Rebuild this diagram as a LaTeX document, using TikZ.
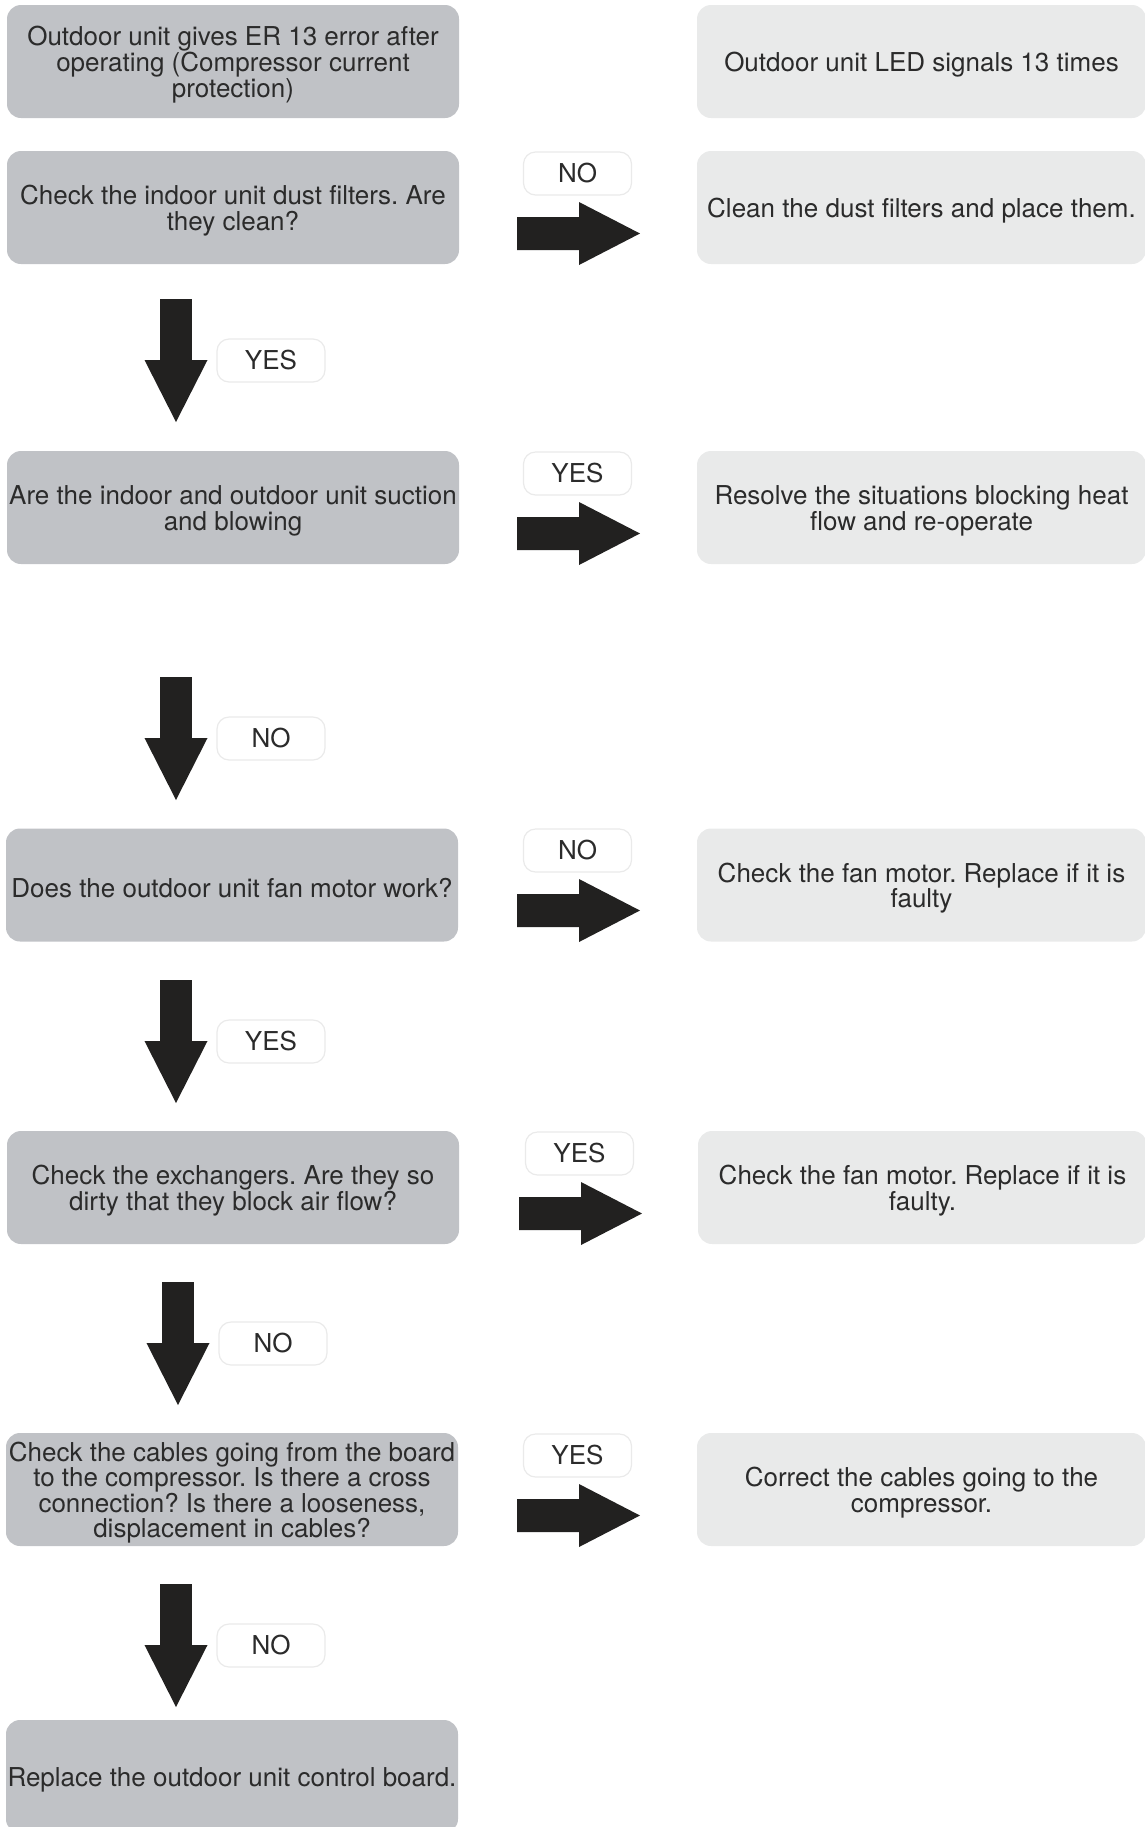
\documentclass[tikz,border=0pt]{standalone}
\usepackage{fontspec}
\setmainfont{TeX Gyre Heros}
\frenchspacing
\definecolor{qfill}{HTML}{C0C2C6}
\definecolor{afill}{HTML}{E9EAEA}
\definecolor{arrowcol}{HTML}{222120}
\definecolor{textcol}{HTML}{2B2B2B}
\definecolor{tagline}{HTML}{EAEAEA}
% a filled box and its centred text, set a little below the middle
\newcommand\flowbox[4]{%
  \node[#1] (#2) at (#3) {};
  \node[txt] (#2-text) at ([yshift=-1.6pt]#2.center) {#4};}
\begin{document}
\begin{tikzpicture}[x=0.5pt,y=-0.5pt,
  txt/.style={font=\fontsize{13}{12.8}\selectfont, text=textcol, align=center, inner sep=0pt},
  qbox/.style={fill=qfill, rounded corners=7pt, minimum width=226pt, minimum height=56.5pt, inner sep=0pt},
  abox/.style={fill=afill, rounded corners=7pt, minimum width=224.5pt, minimum height=56.5pt, inner sep=0pt},
  tag/.style={txt, fill=white, draw=tagline, line width=0.6pt, rounded corners=6pt, minimum width=54pt, minimum height=21.5pt, inner sep=0pt},
  downarrow/.pic={\fill[arrowcol] (-15.8,0) -- (15.8,0) -- (15.8,61) -- (31.5,61) -- (0,123) -- (-31.5,61) -- (-15.8,61) -- cycle;},
  rightarrow/.pic={\fill[arrowcol] (0,-16.5) -- (62,-16.5) -- (62,-31.5) -- (123,0) -- (62,31.5) -- (62,16.5) -- (0,16.5) -- cycle;}
]
\useasboundingbox (0,0) rectangle (1145,1827);

% question boxes (left column)
\flowbox{qbox}{q1}{233,61.5}{Outdoor unit gives ER 13 error after\\operating (Compressor current\\protection)}
\flowbox{qbox}{q2}{233,207.5}{Check the indoor unit dust filters. Are\\they clean?}
\flowbox{qbox}{q3}{233,507.5}{Are the indoor and outdoor unit suction\\and blowing}
\flowbox{qbox}{q4}{232,885}{Does the outdoor unit fan motor work?}
\flowbox{qbox}{q5}{233,1187.5}{Check the exchangers. Are they so\\dirty that they block air flow?}
\flowbox{qbox}{q6}{232,1489.5}{Check the cables going from the board\\to the compressor. Is there a cross\\connection? Is there a looseness,\\displacement in cables?}
\flowbox{qbox}{q7}{232,1776.5}{Replace the outdoor unit control board.}

% action boxes (right column)
\flowbox{abox}{r1}{921.5,61.5}{Outdoor unit LED signals 13 times}
\flowbox{abox}{r2}{921.5,207.5}{Clean the dust filters and place them.}
\flowbox{abox}{r3}{921.5,507.5}{Resolve the situations blocking heat\\flow and re-operate}
\flowbox{abox}{r4}{921.5,885}{Check the fan motor. Replace if it is\\faulty}
\flowbox{abox}{r5}{922.5,1187.5}{Check the fan motor. Replace if it is\\faulty.}
\flowbox{abox}{r6}{921.5,1489.5}{Correct the cables going to the\\compressor.}

% downward arrows with their answers
\coordinate (d1) at (176,299);
\coordinate (d2) at (176,677);
\coordinate (d3) at (176,980);
\coordinate (d4) at (178,1282);
\coordinate (d5) at (176,1584);
\foreach \c in {d1,d2,d3,d4,d5} \pic at (\c) {downarrow};
\node[tag] (t1) at (271,360.5)  {YES};
\node[tag] (t2) at (271,738.5)  {NO};
\node[tag] (t3) at (271,1041.5) {YES};
\node[tag] (t4) at (273,1343.5) {NO};
\node[tag] (t5) at (271,1645.5) {NO};

% sideways arrows with their answers
\coordinate (s2) at (517,233.5);
\coordinate (s3) at (517,533.5);
\coordinate (s4) at (517,910.5);
\coordinate (s5) at (519,1213.5);
\coordinate (s6) at (517,1515.5);
\foreach \c in {s2,s3,s4,s5,s6} \pic at (\c) {rightarrow};
\node[tag] (u2) at (577.5,173.5)  {NO};
\node[tag] (u3) at (577.5,473.5)  {YES};
\node[tag] (u4) at (577.5,850.5)  {NO};
\node[tag] (u5) at (579.5,1153.5) {YES};
\node[tag] (u6) at (577.5,1455.5) {YES};
\end{tikzpicture}
\end{document}
